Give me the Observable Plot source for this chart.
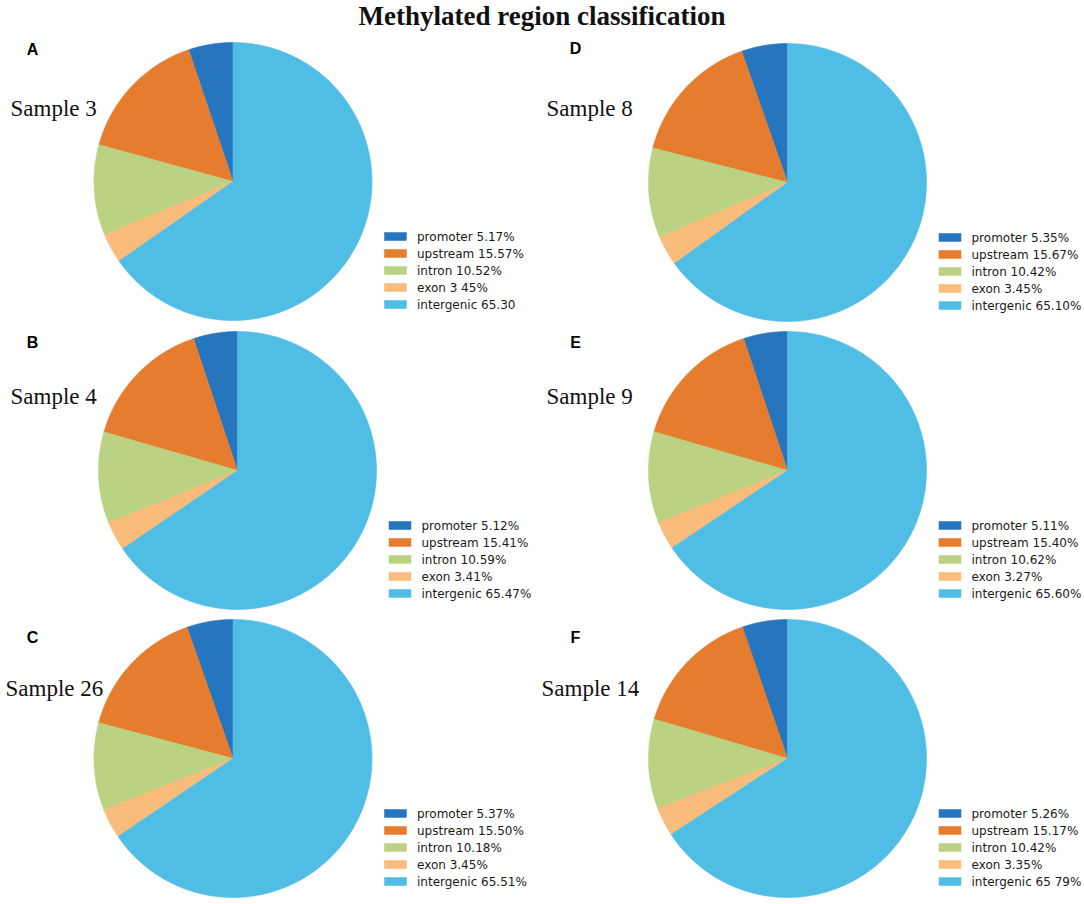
<!DOCTYPE html>
<html>
<head>
<meta charset="utf-8">
<script src="https://cdn.jsdelivr.net/npm/d3@7"></script>
<script src="https://cdn.jsdelivr.net/npm/@observablehq/plot@0.6"></script>
<style>
  body { margin: 0; background: #fff; }
  #title { height: 30px; line-height: 32px; text-align: center; font-family: "Liberation Serif", serif; font-weight: bold; font-size: 27px; color: #111; width: 1084px; }
</style>
</head>
<body>
<div id="title">Methylated region classification</div>
<div id="chart"></div>
<script>
// ---- data ----
const categories = ["promoter", "upstream", "intron", "exon", "intergenic"];
const colors = ["#2676bf", "#e67c2e", "#bad281", "#f9bc7b", "#50bde5"];
const panelLetters = ["A", "B", "C", "D", "E", "F"];
const sampleNames = ["Sample 3", "Sample 4", "Sample 26", "Sample 8", "Sample 9", "Sample 14"];
const promoter   = [5.17, 5.12, 5.37, 5.35, 5.11, 5.26];
const upstream   = [15.57, 15.41, 15.50, 15.67, 15.40, 15.17];
const intron     = [10.52, 10.59, 10.18, 10.42, 10.62, 10.42];
const exon       = [3.45, 3.41, 3.45, 3.45, 3.27, 3.35];
const intergenic = [65.30, 65.47, 65.51, 65.10, 65.60, 65.79];
const legendLabels = [
  ["promoter 5.17%", "upstream 15.57%", "intron 10.52%", "exon 3 45%", "intergenic 65.30"],
  ["promoter 5.12%", "upstream 15.41%", "intron 10.59%", "exon 3.41%", "intergenic 65.47%"],
  ["promoter 5.37%", "upstream 15.50%", "intron 10.18%", "exon 3.45%", "intergenic 65.51%"],
  ["promoter 5.35%", "upstream 15.67%", "intron 10.42%", "exon 3.45%", "intergenic 65.10%"],
  ["promoter 5.11%", "upstream 15.40%", "intron 10.62%", "exon 3.27%", "intergenic 65.60%"],
  ["promoter 5.26%", "upstream 15.17%", "intron 10.42%", "exon 3.35%", "intergenic 65 79%"]
];
const seriesByCat = [promoter, upstream, intron, exon, intergenic];

// ---- layout (page pixels) ----
const W = 1084, H = 874, topOff = 30;
const radius = 139;
const layout = [
  {cx: 232.5, cy: 181, sx: 10,  letterY: 49,  sampleY: 108},
  {cx: 237,   cy: 470, sx: 10,  letterY: 342, sampleY: 396},
  {cx: 232.5, cy: 758, sx: 5,   letterY: 637, sampleY: 688},
  {cx: 787,   cy: 182, sx: 546, letterY: 48,  sampleY: 108},
  {cx: 787,   cy: 470, sx: 546, letterY: 342, sampleY: 396},
  {cx: 787,   cy: 758, sx: 541, letterY: 637, sampleY: 688}
];
const letterX = [32, 32, 32, 575, 575, 575];

// ---- build slice polygons ----
const pts = [];
const legendRows = [];
panelLetters.forEach((p, i) => {
  const {cx, cy} = layout[i];
  const vals = seriesByCat.map(s => s[i]);
  const total = d3.sum(vals);
  let cum = 0;
  vals.forEach((v, j) => {
    const a0 = Math.PI / 2 + cum / total * 2 * Math.PI;
    cum += v;
    const a1 = Math.PI / 2 + cum / total * 2 * Math.PI;
    const id = p + "-" + j;
    pts.push({id, cat: categories[j], x: cx, y: cy - topOff});
    const n = Math.max(2, Math.ceil((a1 - a0) / (Math.PI / 360)));
    for (let k = 0; k <= n; k++) {
      const a = a0 + (a1 - a0) * k / n;
      pts.push({id, cat: categories[j], x: cx + radius * Math.cos(a), y: cy - topOff - radius * Math.sin(a)});
    }
    pts.push({id, cat: categories[j], x: cx, y: cy - topOff});
    legendRows.push({
      cat: categories[j], label: legendLabels[i][j],
      x1: cx + 152, x2: cx + 174,
      yc: cy - topOff + 55.5 + j * 17
    });
  });
});

const panels = panelLetters.map((p, i) => ({
  letter: p, sample: sampleNames[i],
  lx: letterX[i], ly: layout[i].letterY - topOff,
  sx: layout[i].sx, sy: layout[i].sampleY - topOff
}));

const chart = Plot.plot({
  width: W, height: H, margin: 0,
  x: {domain: [0, W], range: [0, W], axis: null},
  y: {domain: [0, H], range: [0, H], axis: null},
  color: {domain: categories, range: colors},
  marks: [
    Plot.line(pts, {x: "x", y: "y", z: "id", fill: "cat", stroke: "cat", strokeWidth: 0.6, curve: "linear"}),
    Plot.rect(legendRows, {x1: "x1", x2: "x2", y1: d => d.yc - 4, y2: d => d.yc + 4, fill: "cat", stroke: "cat", strokeWidth: 0.5}),
    Plot.text(legendRows, {x: d => d.x2 + 10, y: "yc", text: "label", textAnchor: "start", fontFamily: "DejaVu Sans", fontSize: 12, fill: "#1a1a1a"}),
    Plot.text(panels, {x: "lx", y: "ly", text: "letter", fontFamily: "Liberation Sans", fontWeight: "bold", fontSize: 16, fill: "#000"}),
    Plot.text(panels, {x: "sx", y: "sy", text: "sample", textAnchor: "start", fontFamily: "Liberation Serif", fontSize: 23, fill: "#111"})
  ]
});
document.getElementById("chart").appendChild(chart);
</script>
</body>
</html>
